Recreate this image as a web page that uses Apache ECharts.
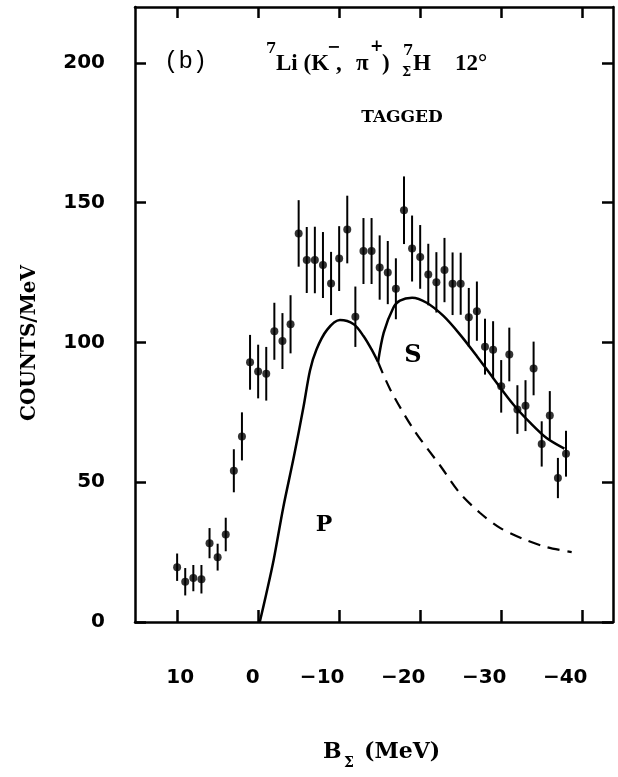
<!DOCTYPE html>
<html>
<head>
<meta charset="utf-8">
<script src="https://cdn.jsdelivr.net/npm/echarts@6/dist/echarts.min.js"></script>
<style>html,body{margin:0;padding:0;background:#fff;}#chart{width:618px;height:777px;}</style>
</head>
<body>
<div id="chart"></div>
<script>
// Data points: binding energy B_Sigma (MeV), counts/MeV, error
const energies = [10, 9, 8, 7, 6, 5, 4, 3, 2, 1, 0, -1, -2, -3, -4, -5, -6, -7, -8, -9, -10, -11, -12, -13, -14, -15, -16, -17, -18, -19, -20, -21, -22, -23, -24, -25, -26, -27, -28, -29, -30, -31, -32, -33, -34, -35, -36, -37, -38];
const counts = [19.6, 14.4, 15.7, 15.3, 28.2, 23.2, 31.3, 54.1, 66.4, 92.9, 89.6, 88.8, 104, 100.5, 106.5, 139, 129.5, 129.5, 127.7, 121.1, 130, 140.4, 109.2, 132.7, 132.7, 126.8, 125, 119.2, 147.3, 133.6, 130.6, 124.3, 121.5, 125.9, 121, 121, 109, 111.2, 98.5, 97.4, 84.3, 95.7, 76, 77.4, 90.7, 63.7, 73.9, 51.5, 60.2];
const errors = [4.9, 4.9, 4.7, 5.1, 5.4, 4.8, 6.0, 7.7, 8.6, 9.8, 9.6, 9.6, 10.2, 10, 10.4, 11.9, 11.8, 11.9, 11.8, 11.3, 11.6, 12.1, 10.8, 11.8, 11.8, 11.5, 11.3, 10.9, 12.1, 11.8, 11.4, 11, 10.8, 11.5, 11.2, 11.1, 10.5, 10.6, 10, 10.2, 9.4, 9.6, 8.7, 9.1, 9.6, 8.1, 8.7, 7.2, 8.2];

// P-wave curve (solid)
const pCurveE = [-0.2, -1.0, -1.9, -3.1, -4.4, -5.6, -6.4, -7.2, -8.5, -10.1, -11.8, -13.0, -14.0, -14.8];
const pCurveV = [0, 10, 22, 41, 59, 77, 90, 97.5, 104.5, 108, 106.5, 102.3, 97.5, 93];
// P-wave continuation (dashed)
const dashE = [-14.8, -16.3, -19.2, -22.5, -24.9, -27.4, -29.9, -32.8, -35.6, -38.7];
const dashV = [93, 83.2, 68.8, 55.8, 46.1, 39, 33.6, 29.6, 26.8, 25];
// P + S curve (solid)
const sCurveE = [-14.8, -15.5, -16.7, -17.5, -19.0, -20.8, -22.9, -24.9, -27.0, -29.0, -31.5, -33.6, -35.6, -37.8];
const sCurveV = [93, 103.5, 112.5, 115, 116, 114.2, 109.4, 102.9, 95.1, 87.3, 77.8, 71.2, 65.8, 62];

const xTicks = [10, 0, -10, -20, -30, -40];
const yTicks = [0, 50, 100, 150, 200];

const pts = energies.map((e, i) => [e, counts[i], errors[i]]);
const zip = (a, b) => a.map((v, i) => [v, b[i]]);

const chart = echarts.init(document.getElementById('chart'));
const numFont = 'DejaVu Sans';
const axisLine = { show: true, onZero: false, lineStyle: { color: '#000', width: 2.5 } };
const tickStyle = { color: '#000', width: 2.5 };

const xLabelRich = {
  a: { fontFamily: numFont, fontWeight: 'bold', fontSize: 20, color: '#000', padding: [0, 0, 0, 6] },
  z: { fontFamily: numFont, fontWeight: 'bold', fontSize: 20, color: '#000', padding: [0, 11, 0, 0] },
  n: { fontFamily: numFont, fontWeight: 'bold', fontSize: 20, color: '#000', padding: [0, 34, 0, 0] }
};

const option = {
  backgroundColor: '#fff',
  animation: false,
  grid: { left: 135, right: 5, top: 7, bottom: 155, containLabel: false },
  xAxis: [
    {
      type: 'value', min: -43.8, max: 15.2, inverse: true, position: 'bottom',
      axisLine: axisLine, splitLine: { show: false },
      axisTick: { show: true, inside: true, length: 12, lineStyle: tickStyle, customValues: xTicks },
      axisLabel: {
        show: true, margin: 46, customValues: xTicks,
        formatter: v => v === 10 ? '{a|10}' : (v === 0 ? '{z|0}' : '{n|\u2212' + Math.abs(v) + '}'),
        rich: xLabelRich
      }
    },
    {
      type: 'value', min: -43.8, max: 15.2, inverse: true, position: 'top',
      axisLine: axisLine, splitLine: { show: false },
      axisTick: { show: true, inside: true, length: 11, lineStyle: tickStyle, customValues: xTicks },
      axisLabel: { show: false }
    }
  ],
  yAxis: [
    {
      type: 'value', min: 0, max: 220, position: 'left',
      axisLine: axisLine, splitLine: { show: false },
      axisTick: { show: true, inside: true, length: 11, lineStyle: tickStyle, customValues: yTicks },
      axisLabel: { show: true, margin: 30, customValues: yTicks, fontFamily: numFont, fontWeight: 'bold', fontSize: 20, color: '#000' }
    },
    {
      type: 'value', min: 0, max: 220, position: 'right',
      axisLine: axisLine, splitLine: { show: false },
      axisTick: { show: true, inside: true, length: 11, lineStyle: tickStyle, customValues: yTicks },
      axisLabel: { show: false }
    }
  ],
  series: [
    {
      type: 'custom', name: 'errors', xAxisIndex: 0, yAxisIndex: 0,
      data: pts,
      encode: { x: 0, y: 1 },
      renderItem: function (params, api) {
        const x = api.value(0), y = api.value(1), e = api.value(2);
        const lo = api.coord([x, y - e]);
        const hi = api.coord([x, y + e]);
        return { type: 'line', shape: { x1: lo[0], y1: lo[1], x2: hi[0], y2: hi[1] }, style: { stroke: '#000', lineWidth: 2 } };
      },
      z: 3
    },
    {
      type: 'scatter', name: 'data', xAxisIndex: 0, yAxisIndex: 0,
      data: pts.map(p => [p[0], p[1]]),
      symbol: 'circle', symbolSize: 8,
      itemStyle: { color: '#000' }, z: 4
    },
    {
      type: 'line', name: 'P', data: zip(pCurveE, pCurveV), showSymbol: false, smooth: 0.3,
      lineStyle: { color: '#000', width: 2.5 }, z: 2
    },
    {
      type: 'line', name: 'P dashed', data: zip(dashE, dashV), showSymbol: false, smooth: 0.3,
      lineStyle: { color: '#000', width: 2.2, type: [12, 8] }, z: 2
    },
    {
      type: 'line', name: 'S', data: zip(sCurveE, sCurveV), showSymbol: false, smooth: 0.3,
      lineStyle: { color: '#000', width: 2.5 }, z: 2
    }
  ],
  graphic: [
    { type: 'text', x: 164, y: 62, style: { text: '(b)', font: 'normal 24px "Liberation Mono"', fill: '#000', align: 'left', verticalAlign: 'middle' } },
    { type: 'text', x: 266, y: 49, style: { text: '7', font: 'bold 15px "DejaVu Serif"', fill: '#000', align: 'left', verticalAlign: 'middle' } },
    { type: 'text', x: 276, y: 64, style: { text: 'Li (K', font: 'bold 23px "Liberation Serif"', fill: '#000', align: 'left', verticalAlign: 'middle' } },
    { type: 'text', x: 327, y: 48, style: { text: '\u2212', font: 'bold 16px "DejaVu Serif"', fill: '#000', align: 'left', verticalAlign: 'middle' } },
    { type: 'text', x: 336, y: 64, style: { text: ',', font: 'bold 23px "Liberation Serif"', fill: '#000', align: 'left', verticalAlign: 'middle' } },
    { type: 'text', x: 356, y: 64, style: { text: '\u03c0', font: 'bold 23px "Liberation Serif"', fill: '#000', align: 'left', verticalAlign: 'middle' } },
    { type: 'text', x: 370, y: 47, style: { text: '+', font: 'bold 16px "DejaVu Serif"', fill: '#000', align: 'left', verticalAlign: 'middle' } },
    { type: 'text', x: 382, y: 64, style: { text: ')', font: 'bold 23px "Liberation Serif"', fill: '#000', align: 'left', verticalAlign: 'middle' } },
    { type: 'text', x: 403, y: 51, style: { text: '7', font: 'bold 15px "DejaVu Serif"', fill: '#000', align: 'left', verticalAlign: 'middle' } },
    { type: 'text', x: 402, y: 73, style: { text: '\u03a3', font: 'bold 13px "DejaVu Serif"', fill: '#000', align: 'left', verticalAlign: 'middle' } },
    { type: 'text', x: 413, y: 64, style: { text: 'H', font: 'bold 23px "Liberation Serif"', fill: '#000', align: 'left', verticalAlign: 'middle' } },
    { type: 'text', x: 455, y: 64, style: { text: '12\u00b0', font: 'bold 23px "Liberation Serif"', fill: '#000', align: 'left', verticalAlign: 'middle' } },
    { type: 'text', x: 402, y: 118, style: { text: 'TAGGED', font: 'bold 17px "DejaVu Serif"', fill: '#000', align: 'center', verticalAlign: 'middle' } },
    { type: 'text', x: 413, y: 356, style: { text: 'S', font: 'bold 24px "DejaVu Serif"', fill: '#000', align: 'center', verticalAlign: 'middle' } },
    { type: 'text', x: 324, y: 525, style: { text: 'P', font: 'bold 22px "DejaVu Serif"', fill: '#000', align: 'center', verticalAlign: 'middle' } },
    { type: 'text', x: 30, y: 343, rotation: Math.PI / 2, style: { text: 'COUNTS/MeV', font: 'bold 20px "DejaVu Serif"', fill: '#000', align: 'center', verticalAlign: 'middle' } },
    { type: 'text', x: 323, y: 752, style: { text: 'B', font: 'bold 22px "DejaVu Serif"', fill: '#000', align: 'left', verticalAlign: 'middle' } },
    { type: 'text', x: 344, y: 763, style: { text: '\u03a3', font: 'bold 14px "DejaVu Serif"', fill: '#000', align: 'left', verticalAlign: 'middle' } },
    { type: 'text', x: 364, y: 752, style: { text: '(MeV)', font: 'bold 22px "DejaVu Serif"', fill: '#000', align: 'left', verticalAlign: 'middle' } }
  ]
};
chart.setOption(option);
</script>
</body>
</html>
